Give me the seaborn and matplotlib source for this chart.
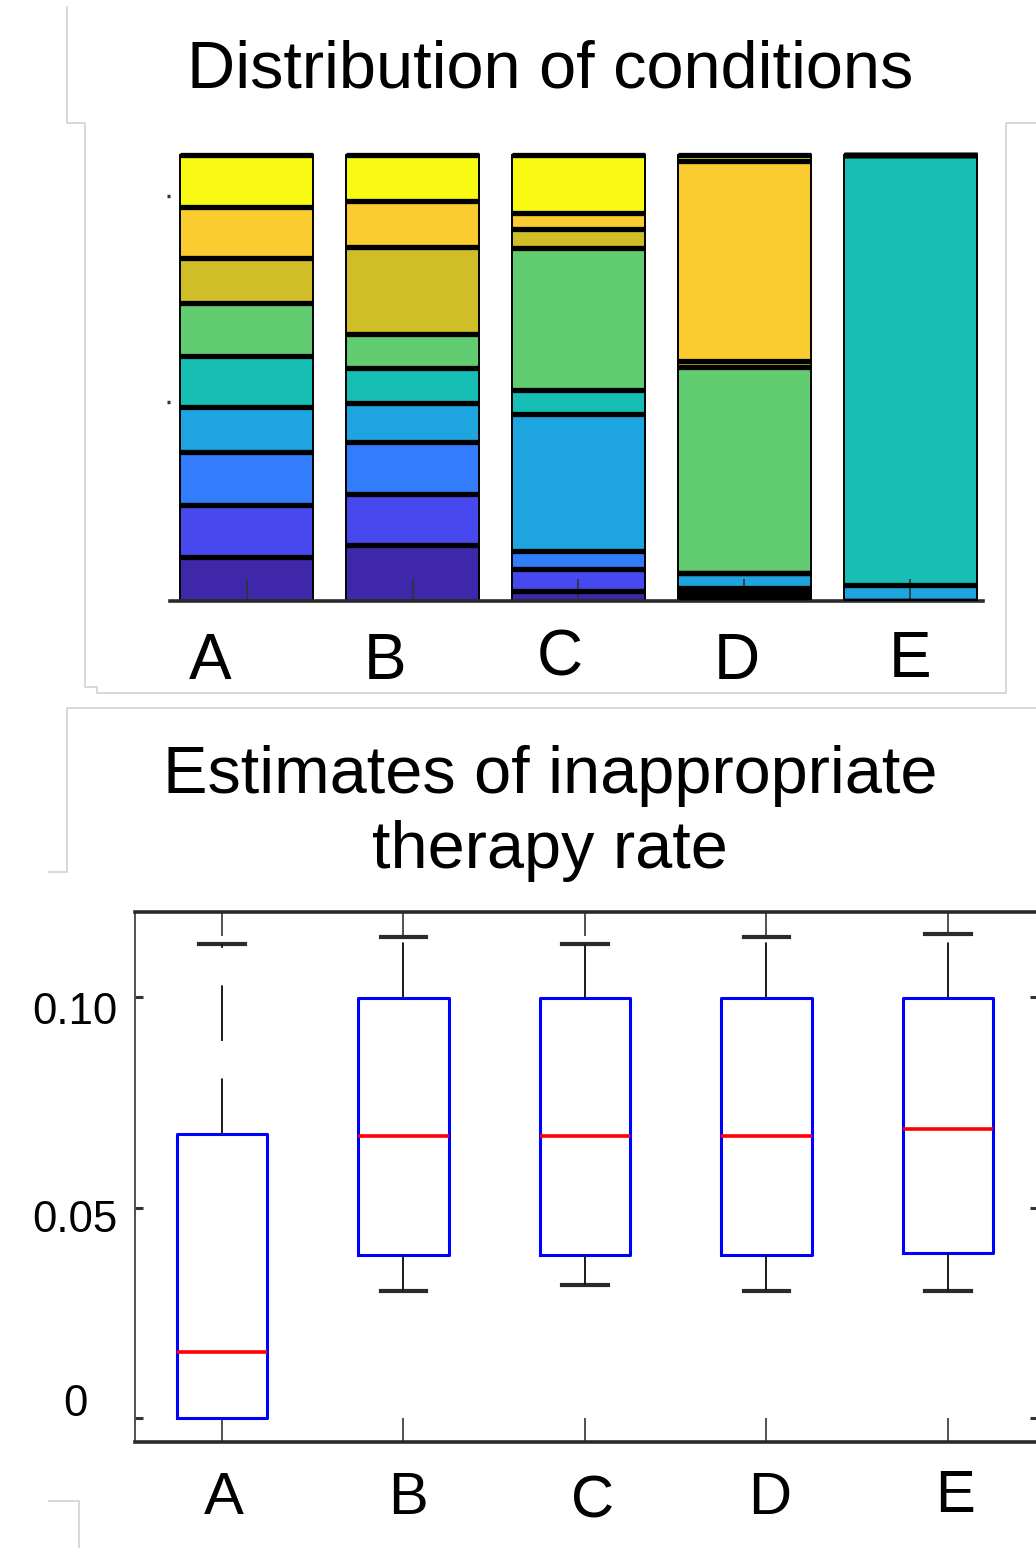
import numpy as np
import pandas as pd
import seaborn as sns
import matplotlib.pyplot as plt
from matplotlib.lines import Line2D
from matplotlib.transforms import ScaledTranslation

plt.rcParams['font.family'] = ['Liberation Sans', 'DejaVu Sans']
plt.rcParams['lines.scale_dashes'] = False

# ---- data: distribution of conditions (share per group, bottom -> top) ----
groups = ["A", "B", "C", "D", "E"]
share_A = [0.099, 0.117, 0.117, 0.103, 0.114, 0.117, 0.103, 0.114, 0.116]
share_B = [0.126, 0.114, 0.117, 0.087, 0.078, 0.076, 0.195, 0.103, 0.104]
share_C = [0.022, 0.050, 0.040, 0.308, 0.052, 0.320, 0.041, 0.037, 0.130]
share_D = [0.010, 0.010, 0.010, 0.033, 0.000, 0.462, 0.012, 0.450, 0.013]
share_E = [0.000, 0.000, 0.000, 0.036, 0.964, 0.000, 0.000, 0.000, 0.000]
parula9 = ["#3e27a8", "#4748ed", "#337dfc", "#1ea5df", "#17beb4",
           "#62cc70", "#d0be29", "#facc30", "#f8fa14"]

# ---- data: inappropriate therapy rate (five-number summaries) ----
box_low = [0.0, 0.0302, 0.0316, 0.0302, 0.0302]
box_q1 = [0.0, 0.0387, 0.0387, 0.0387, 0.0392]
box_med = [0.0157, 0.0670, 0.0670, 0.0670, 0.0687]
box_q3 = [0.0675, 0.0998, 0.0998, 0.0998, 0.0998]
box_high = [0.1126, 0.1143, 0.1126, 0.1143, 0.1150]
rate_ticks = [0, 0.05, 0.10]
rate_ticklabels = ["0", "0.05", "0.10"]

W, H = 1036, 1548
fig = plt.figure(figsize=(W / 100, H / 100), dpi=100)


def frame(left, top, right, bottom):
    return [left / W, 1 - bottom / H, (right - left) / W, (bottom - top) / H]


def nudge(labels, offsets):
    # shift tick labels by a few pixels each
    for lbl, (dx, dy) in zip(labels, offsets):
        lbl.set_transform(lbl.get_transform() +
                          ScaledTranslation(dx / 100, dy / 100, fig.dpi_scale_trans))


# faint frame remnants around the panels
faint = "#d2d2d2"
for pts in [
    [(67, 7), (67, 123), (85, 123), (85, 687), (97, 687), (97, 693), (1006, 693), (1006, 123), (1036, 123)],
    [(1036, 708), (67, 708), (67, 872), (49, 872)],
    [(49, 1501), (79, 1501), (79, 1548)],
]:
    xs = [p[0] / W for p in pts]
    ys = [1 - p[1] / H for p in pts]
    fig.add_artist(Line2D(xs, ys, color=faint, lw=1.2, transform=fig.transFigure))

# ---------------- top: stacked bars ----------------
ax1 = fig.add_axes(frame(170, 150, 983, 601))
shares = np.array([share_A, share_B, share_C, share_D, share_E])
base = np.zeros(len(groups))
for j, col in enumerate(parula9):
    sns.barplot(x=groups, y=shares[:, j], bottom=base, color=col, saturation=1,
                width=0.8, edgecolor="black", linewidth=1.4, errorbar=None, ax=ax1)
    base = base + shares[:, j]

edges = np.cumsum(shares, axis=1)
for i in range(len(groups)):
    ax1.hlines(edges[i], i - 0.4, i + 0.4, colors="black", lw=3.8, zorder=3)

ax1.set_xlim(-0.461, 4.437)
ax1.set_ylim(0, 1.011)
for s in ["left", "top", "right"]:
    ax1.spines[s].set_visible(False)
ax1.spines["bottom"].set_linewidth(2.6)
ax1.spines["bottom"].set_color("#2a2a2a")
ax1.set_xlabel("")
ax1.set_ylabel("")
ax1.set_yticks([0.446, 0.908])
ax1.tick_params(axis="y", length=2, width=2.5, labelleft=False, color="#333333")
ax1.tick_params(axis="x", direction="in", length=16, width=1.2, color="#333333",
                pad=22, labelsize=46)
nudge(ax1.get_xticklabels(), [(-36.5, 0), (-27, 0), (-18.5, 3), (-8, 0), (0, 2)])

fig.text(550 / W, 1 - 40 / H, "Distribution of conditions", ha="center", va="top",
         fontsize=48)

# ---------------- bottom: box plots ----------------
rows = []
for g, lo, q1, md, q3, hi in zip(groups, box_low, box_q1, box_med, box_q3, box_high):
    for v in (lo, q1, md, q3, hi):
        rows.append({"group": g, "rate": v})
df_box = pd.DataFrame(rows)

ax2 = fig.add_axes(frame(135, 912, 1038, 1442))
sns.boxplot(data=df_box, x="group", y="rate", whis=(0, 100), width=0.5, fill=False,
            linecolor="blue", ax=ax2,
            boxprops=dict(color="blue", linewidth=2.2),
            medianprops=dict(color="red", linewidth=2.6),
            whiskerprops=dict(color="#1a1a1a", linewidth=1.4, linestyle=(0, (40, 27))),
            capprops=dict(color="#2b2b2b", linewidth=3.0, zorder=1.5))

# no lower cap where the lower whisker has zero length
if ax2.containers:
    caps = ax2.containers[0].caps
    for i, (lo, q1) in enumerate(zip(box_low, box_q1)):
        if lo == q1 and 2 * i < len(caps):
            caps[2 * i].set_visible(False)

ax2.set_xlim(-0.479, 4.496)
ax2.set_ylim(-0.0057, 0.1202)
ax2.set_xlabel("")
ax2.set_ylabel("")
for s in ["top", "bottom"]:
    ax2.spines[s].set_linewidth(2.6)
    ax2.spines[s].set_color("#2a2a2a")
ax2.spines["left"].set_linewidth(1.3)
ax2.spines["left"].set_color("#444444")
ax2.spines["right"].set_visible(False)
ax2.set_yticks(rate_ticks)
ax2.set_yticklabels(rate_ticklabels)
ax2.tick_params(axis="x", direction="in", top=True, length=17, width=1.2,
                color="#333333", pad=21, labelsize=43)
ax2.tick_params(axis="y", direction="in", right=True, length=6, width=2.2,
                color="#333333", pad=43, labelsize=31.5)
for lbl in ax2.get_yticklabels():
    lbl.set_horizontalalignment("center")
nudge(ax2.get_xticklabels(), [(2, 0), (5, 0), (8, -3), (3, 0), (7, 2)])
nudge(ax2.get_yticklabels(), [(0, 18), (0, -8), (0, -11)])

fig.text(550 / W, 1 - 745 / H, "Estimates of inappropriate\ntherapy rate", ha="center",
         va="top", fontsize=48, linespacing=1.27, multialignment="center")

fig.savefig("out.png", dpi=100)
